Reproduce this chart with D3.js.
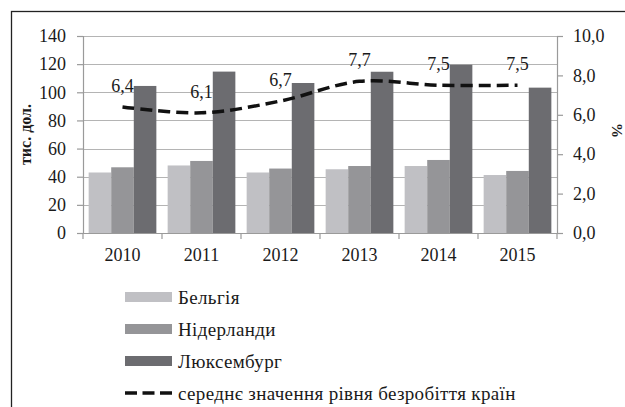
<!DOCTYPE html>
<html>
<head>
<meta charset="utf-8">
<script src="https://cdn.jsdelivr.net/npm/d3@7"></script>
<style>
  body { margin: 0; background: #fff; }
  svg text { font-family: "Liberation Serif", "Times New Roman", Times, serif !important; fill: #1a1a1a; }
</style>
</head>
<body>
<div id="chart"></div>
<script>
// data
var years = ["2010", "2011", "2012", "2013", "2014", "2015"];
var belgium = [43, 48, 43, 45.3, 47.6, 41.2];
var netherlands = [46.7, 51.2, 45.8, 47.6, 51.9, 44.1];
var luxembourg = [104.5, 114.7, 106.6, 114.6, 119.6, 103.3];
var unemployment = [6.4, 6.1, 6.7, 7.7, 7.5, 7.5];
var unemploymentLabels = ["6,4", "6,1", "6,7", "7,7", "7,5", "7,5"];
var leftTicks = [0, 20, 40, 60, 80, 100, 120, 140];
var rightTicks = [0, 2, 4, 6, 8, 10];

var seriesNames = ["Бельгія", "Нідерланди", "Люксембург"];
var lineName = "середнє значення рівня безробіття країн";
var colors = ["#c0c0c4", "#959598", "#6c6c70"];

var FONT = "'Liberation Serif', 'Times New Roman', Times, serif";

var W = 625, H = 407;
var margin = { top: 36, right: 68, bottom: 174, left: 83 },
    width = W - margin.left - margin.right,
    height = H - margin.top - margin.bottom;

var svg = d3.select("#chart")
    .append("svg")
    .attr("width", W)
    .attr("height", H)
    .style("font-family", FONT);

// outer frame (cut off at right and bottom like the picture)
svg.append("rect")
    .attr("x", 11.5).attr("y", 11.5)
    .attr("width", W).attr("height", H)
    .attr("fill", "none")
    .attr("stroke", "#222")
    .attr("stroke-width", 1.3);

var g = svg.append("g")
    .attr("transform", "translate(" + margin.left + "," + margin.top + ")");

var x0 = d3.scaleBand().domain(years).range([0, width]).paddingInner(0).paddingOuter(0);
var x1 = d3.scaleBand().domain(d3.range(3)).range([0, x0.bandwidth()]).paddingInner(0).paddingOuter(0.25);
var y = d3.scaleLinear().domain([0, 140]).range([height, 0]);
var y2 = d3.scaleLinear().domain([0, 10]).range([height, 0]);

// gridlines
g.selectAll(".grid").data(leftTicks.slice(1))
    .enter().append("line")
    .attr("x1", 0).attr("x2", width)
    .attr("y1", function (d) { return Math.round(y(d)) + 0.5; })
    .attr("y2", function (d) { return Math.round(y(d)) + 0.5; })
    .attr("stroke", "#b4b4b4")
    .attr("stroke-width", 1.2);

// bars
var series = [belgium, netherlands, luxembourg];
series.forEach(function (vals, si) {
    g.selectAll(".bar" + si).data(vals)
        .enter().append("rect")
        .attr("x", function (d, i) { return x0(years[i]) + x1(si); })
        .attr("y", function (d) { return y(d); })
        .attr("width", x1.bandwidth())
        .attr("height", function (d) { return height - y(d); })
        .attr("fill", colors[si]);
});

// left axis
var axL = g.append("g")
    .call(d3.axisLeft(y).tickValues(leftTicks).tickSize(6).tickPadding(11).tickFormat(d3.format("d")));
// right axis
var axR = g.append("g")
    .attr("transform", "translate(" + width + ",0)")
    .call(d3.axisRight(y2).tickValues(rightTicks).tickSize(6).tickPadding(10)
        .tickFormat(function (d) { return d3.format(".1f")(d).replace(".", ","); }));
// bottom axis
var axB = g.append("g")
    .attr("transform", "translate(0," + height + ")")
    .call(d3.axisBottom(x0).tickSize(0).tickPadding(15));
axB.selectAll(".tick").append("line")
    .attr("x1", -x0.bandwidth() / 2).attr("x2", -x0.bandwidth() / 2)
    .attr("y1", 0).attr("y2", 6);
axB.append("line")
    .attr("x1", width).attr("x2", width).attr("y1", 0).attr("y2", 6);

[axL, axR, axB].forEach(function (a) {
    a.attr("font-family", null).attr("font-size", null);
    a.selectAll("path").attr("stroke", "#9a9a9a").attr("stroke-width", 1.2);
    a.selectAll("line").attr("stroke", "#9a9a9a").attr("stroke-width", 1.2);
    a.selectAll("text")
        .style("font-size", "18px")
        .style("font-family", FONT)
        .attr("fill", "#1a1a1a");
});

// unemployment line
var line = d3.line()
    .x(function (d, i) { return x0(years[i]) + x0.bandwidth() / 2; })
    .y(function (d) { return y2(d); })
    .curve(d3.curveCatmullRom.alpha(0.5));

g.append("path")
    .datum(unemployment)
    .attr("fill", "none")
    .attr("stroke", "#111")
    .attr("stroke-width", 3.5)
    .attr("stroke-dasharray", "12,6")
    .attr("d", line);

g.selectAll(".lbl").data(unemployment)
    .enter().append("text")
    .attr("x", function (d, i) { return x0(years[i]) + x0.bandwidth() / 2; })
    .attr("y", function (d) { return y2(d) - 15; })
    .attr("text-anchor", "middle")
    .style("font-size", "18px")
    .style("font-family", FONT)
    .text(function (d, i) { return unemploymentLabels[i]; });

// axis titles
svg.append("text")
    .attr("transform", "translate(31," + (margin.top + height / 2) + ") rotate(-90)")
    .attr("text-anchor", "middle")
    .style("font-size", "16px")
    .style("font-family", FONT)
    .attr("font-weight", "bold")
    .text("тис. дол.");

svg.append("text")
    .attr("transform", "translate(612," + (margin.top + height / 2 - 4) + ") rotate(90)")
    .attr("text-anchor", "middle")
    .style("font-size", "15px")
    .style("font-family", FONT)
    .attr("font-weight", "bold")
    .text("%");

// legend
var legend = svg.selectAll(".legend").data(seriesNames)
    .enter().append("g")
    .attr("transform", function (d, i) { return "translate(125," + (297 + i * 32) + ")"; });

legend.append("rect")
    .attr("x", 0).attr("y", -5)
    .attr("width", 47).attr("height", 10)
    .attr("fill", function (d, i) { return colors[i]; });

legend.append("text")
    .attr("x", 53).attr("y", 6.5)
    .style("font-size", "19px")
    .style("letter-spacing", "0.35px")
    .style("font-family", FONT)
    .text(function (d) { return d; });

var lineLegend = svg.append("g").attr("transform", "translate(125,393)");
lineLegend.append("line")
    .attr("x1", 0).attr("x2", 47).attr("y1", 0).attr("y2", 0)
    .attr("stroke", "#111").attr("stroke-width", 3.5)
    .attr("stroke-dasharray", "12,5.5");
lineLegend.append("text")
    .attr("x", 53).attr("y", 6.5)
    .style("font-size", "19px")
    .style("letter-spacing", "0.35px")
    .style("font-family", FONT)
    .text(lineName);
</script>
</body>
</html>
